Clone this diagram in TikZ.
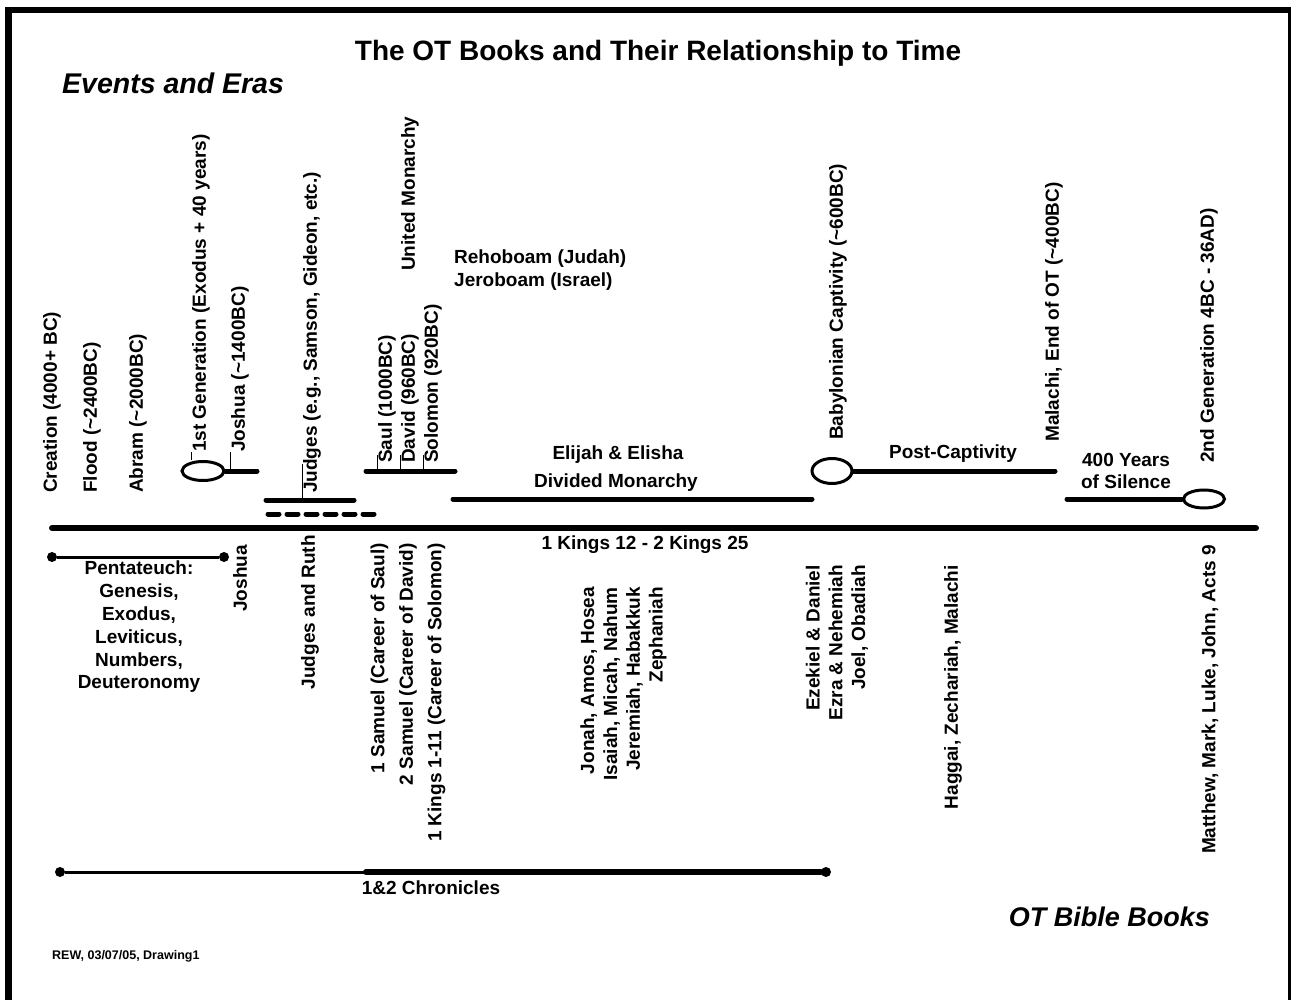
\documentclass[tikz,border=0pt]{standalone}
\usepackage{fontspec}
\setmainfont{Liberation Sans}
\usetikzlibrary{shapes.geometric}

\begin{document}
\begin{tikzpicture}[x=1pt, y=-1pt,
  lbl/.style={font=\fontsize{19}{22.8}\selectfont\bfseries, inner sep=0pt},
  upcol/.style={lbl, rotate=90, anchor=west, align=left},
  downcol/.style={lbl, rotate=90, anchor=east, align=right},
  era/.style={line width=5pt, line cap=round},
  leader/.style={line width=1pt},
  marker/.style={ellipse, draw, line width=3pt, inner sep=0pt},
  dot/.style={circle, fill, inner sep=0pt, minimum size=10pt}]

% Page and frame
\fill[white] (0,0) rectangle (1291,1000);
\useasboundingbox (0,0) rectangle (1291,1000);
\fill (5,7) rectangle (12,1000);       % thick left edge
\fill (5,7) rectangle (1291,13);       % thick top edge
\fill (1288,13) rectangle (1290.7,1000); % thin right edge

% Define coordinates
\coordinate (tl0) at (52,528);    % start of time line
\coordinate (tl1) at (1256,528);  % end of time line
\coordinate (jos1) at (257,471);  % end of Joshua era
\coordinate (jdg0) at (266,500);  % Judges era
\coordinate (jdg1) at (354,500);
\coordinate (dsh0) at (268,514);  % Ruth (dashed)
\coordinate (dsh1) at (375,514);
\coordinate (um0) at (366,471);   % United Monarchy
\coordinate (um1) at (455,471);
\coordinate (dm0) at (453,499);   % Divided Monarchy
\coordinate (dm1) at (812,499);
\coordinate (pc1) at (1055,471);  % end of Post-Captivity
\coordinate (sil0) at (1067,499); % start of 400 years
\coordinate (ch2) at (366,872);   % Chronicles gets thick here

% Draw the time line
\draw[line width=6pt, line cap=round] (tl0) -- (tl1);

% Markers (ellipses)
\node[marker, minimum width=42pt, minimum height=19pt] (exodus) at (203,471) {};
\node[marker, minimum width=40pt, minimum height=25pt] (captiv) at (832,471) {};
\node[marker, minimum width=41pt, minimum height=18pt] (advent) at (1204,499) {};

% Era bars
\draw[era] (exodus.east) -- (jos1);
\draw[era] (jdg0) -- (jdg1);
\draw[era, dash pattern=on 11pt off 8pt] (dsh0) -- (dsh1);
\draw[era] (um0) -- (um1);
\draw[era] (dm0) -- (dm1);
\draw[era] (captiv.east) -- (pc1);
\draw[era] (sil0) -- (advent.west);

% Book spans with end dots
\node[dot] (pt0) at (52,557) {};
\node[dot] (pt1) at (224,557) {};
\draw[line width=3pt] (pt0) -- (pt1);
\node[dot] (ch0) at (60,872) {};
\node[dot] (ch1) at (826,872) {};
\draw[line width=3pt] (ch0) -- (ch2);
\draw[line width=6pt, line cap=round] (ch2) -- (ch1);

% Headings
\node[lbl, font=\fontsize{28}{33}\selectfont\bfseries] (title) at (658,53) {The OT Books and Their Relationship to Time};
\node[lbl, font=\fontsize{28.5}{34}\selectfont\bfseries\itshape, anchor=west] (events) at (62,83) {Events and Eras};
\node[lbl, font=\fontsize{27}{32}\selectfont\bfseries\itshape, anchor=east] (otbooks) at (1210,917) {OT Bible Books};
\node[lbl, font=\fontsize{12.5}{15}\selectfont\bfseries, anchor=west] (rew) at (52,956) {REW, 03/07/05, Drawing1};

% Events above the line
\node[upcol] (creation) at (52,493) {Creation (4000+ BC)};
\node[upcol] (flood) at (92,493) {Flood (\textasciitilde 2400BC)};
\node[upcol] (abram) at (138,493) {Abram (\textasciitilde 2000BC)};
\node[upcol] (gen1) at (201,452) {1st Generation (Exodus + 40 years)};
\node[upcol] (joshuaEv) at (240,452) {Joshua (\textasciitilde 1400BC)};
\node[upcol] (judgesEv) at (312,493) {Judges (e.g., Samson, Gideon, etc.)};
\node[upcol] (saul) at (387,463) {Saul (1000BC)};
\node[upcol] (david) at (410,463) {David (960BC)};
\node[upcol] (solomon) at (433,463) {Solomon (920BC)};
\node[upcol] (united) at (410,271) {United Monarchy};
\node[lbl, anchor=west, align=left] (split) at (454,270) {Rehoboam (Judah)\\Jeroboam (Israel)};
\node[lbl] (elijah) at (618,455) {Elijah \& Elisha};
\node[lbl] (divided) at (616,483) {Divided Monarchy};
\node[upcol] (babylon) at (838,440) {Babylonian Captivity (\textasciitilde 600BC)};
\node[lbl] (postcap) at (953,454) {Post-Captivity};
\node[upcol] (malachiEv) at (1054,442) {Malachi, End of OT (\textasciitilde 400BC)};
\node[lbl, align=center] (silence) at (1126,471) {400 Years\\of Silence};
\node[upcol] (gen2) at (1209,463) {2nd Generation 4BC - 36AD)};

% Leaders from the labels down to their bars
\draw[leader] (gen1.north west) -- (gen1.north west |- exodus.north);
\draw[leader] (joshuaEv.north west) -- (joshuaEv.north west |- jos1);
\draw[leader] ([yshift=29pt]judgesEv.north west) -- (judgesEv.north west |- jdg0);
\foreach \k in {saul, david, solomon}
  \draw[leader] ([yshift=8pt]\k.north west) -- (\k.north west |- um0);

% Books below the line
\node[lbl] (kingsBk) at (645,545) {1 Kings 12 - 2 Kings 25};
\node[lbl, align=center] (pent) at (139,627) {Pentateuch:\\Genesis,\\Exodus,\\Leviticus,\\Numbers,\\Deuteronomy};
\node[downcol] (joshuaBk) at (240,545) {Joshua};
\node[downcol] (judgesBk) at (310,535) {Judges and Ruth};
\node[downcol, font=\fontsize{19}{28.5}\selectfont\bfseries] (samuel) at (408,543) {1 Samuel (Career of Saul)\\2 Samuel (Career of David)\\1 Kings 1-11 (Career of Solomon)};
\node[downcol] (prophets) at (623.5,587) {Jonah, Amos, Hosea\\Isaiah, Micah, Nahum\\Jeremiah, Habakkuk\\Zephaniah};
\node[downcol] (exileBk) at (837,565) {Ezekiel \& Daniel\\Ezra \& Nehemiah\\Joel, Obadiah};
\node[downcol] (haggai) at (953,565) {Haggai, Zechariah, Malachi};
\node[downcol] (gospels) at (1210,545) {Matthew, Mark, Luke, John, Acts 9};
\node[lbl] (chron) at (431,888) {1\&2 Chronicles};

\end{tikzpicture}
\end{document}
